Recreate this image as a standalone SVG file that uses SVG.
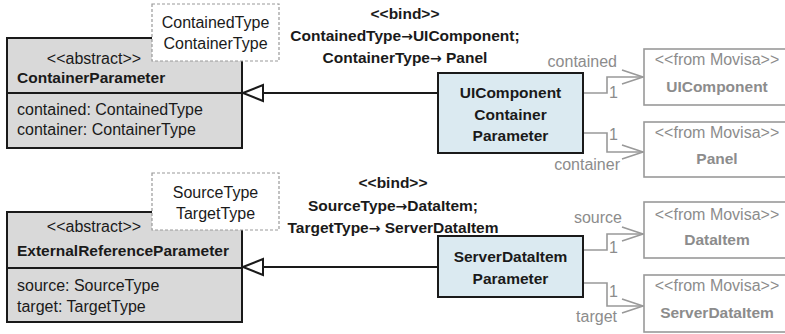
<svg xmlns="http://www.w3.org/2000/svg" width="785" height="334" viewBox="0 0 785 334">
<defs>
<style>
.t{font-family:"Liberation Sans",Arial,sans-serif;font-size:16px;fill:#1a1a1a}
.b{font-weight:bold;font-size:15.5px}
.g{fill:#8c8c8c}
.m{text-anchor:middle}
.e{text-anchor:end}
.ar{font-family:"DejaVu Sans",sans-serif;font-weight:bold;font-size:14px}
.abs{fill:#d9d9d9;stroke:#1a1a1a;stroke-width:2}
.blue{fill:#dbeaf1;stroke:#1a1a1a;stroke-width:2}
.mov{fill:#fff;stroke:#999;stroke-width:1.6}
.tpl{fill:#fff;stroke:#999;stroke-width:1.2;stroke-dasharray:3,2}
.gen{fill:none;stroke:#1a1a1a;stroke-width:2}
.tri{fill:#fff;stroke:#1a1a1a;stroke-width:2}
.asc{fill:none;stroke:#999;stroke-width:1.6}
</style>
</defs>

<g id="connectors">
<path class="gen" d="M438,93 L263,93"/>
<polygon class="tri" points="243,93 263,85 263,101"/>
<path class="gen" d="M438,267 L263,267"/>
<polygon class="tri" points="243,267 263,259 263,275"/>
<path class="asc" d="M583,93 H607 V77 H643"/>
<path class="asc" d="M622,70 L643,77 L622,84"/>
<path class="asc" d="M583,133 H607 V152 H643"/>
<path class="asc" d="M622,145 L643,152 L622,159"/>
<path class="asc" d="M583,250 H607 V234 H643"/>
<path class="asc" d="M622,227 L643,234 L622,241"/>
<path class="asc" d="M583,283 H607 V306 H643"/>
<path class="asc" d="M622,299 L643,306 L622,313"/>
<text class="t g e" x="617" y="67">contained</text>
<text class="t g" x="609" y="98">1</text>
<text class="t g" x="609" y="140">1</text>
<text class="t g e" x="620" y="170">container</text>
<text class="t g e" x="622" y="223">source</text>
<text class="t g" x="609" y="253">1</text>
<text class="t g" x="609" y="297">1</text>
<text class="t g e" x="617" y="322">target</text>
<g id="bind1">
<text class="t b m" x="405" y="19">&lt;&lt;bind&gt;&gt;</text>
<text class="t b m" x="405" y="41">ContainedType<tspan class="ar">→</tspan>UIComponent;</text>
<text class="t b m" x="405" y="63">ContainerType<tspan class="ar">→</tspan> Panel</text>
</g>
<g id="bind2">
<text class="t b m" x="393" y="188">&lt;&lt;bind&gt;&gt;</text>
<text class="t b m" x="393" y="211">SourceType<tspan class="ar">→</tspan>DataItem;</text>
<text class="t b m" x="393" y="233">TargetType<tspan class="ar">→</tspan> ServerDataItem</text>
</g>
</g>

<g id="ContainerParameter">
<rect class="abs" x="7" y="38" width="235" height="110"/>
<line x1="7" y1="93" x2="242" y2="93" stroke="#1a1a1a" stroke-width="2"/>
<text class="t m" x="94" y="64">&lt;&lt;abstract&gt;&gt;</text>
<text class="t b" x="17" y="83">ContainerParameter</text>
<text class="t" x="17" y="115">contained: ContainedType</text>
<text class="t" x="17" y="135">container: ContainerType</text>
</g>
<g id="tplContainer">
<rect class="tpl" x="152" y="4" width="127" height="57"/>
<text class="t m" x="215.5" y="28">ContainedType</text>
<text class="t m" x="215.5" y="49">ContainerType</text>
</g>

<g id="ExternalReferenceParameter">
<rect class="abs" x="7" y="212" width="235" height="110"/>
<line x1="7" y1="268" x2="242" y2="268" stroke="#1a1a1a" stroke-width="2"/>
<text class="t m" x="94" y="232">&lt;&lt;abstract&gt;&gt;</text>
<text class="t b" x="17" y="256">ExternalReferenceParameter</text>
<text class="t" x="17" y="291">source: SourceType</text>
<text class="t" x="17" y="312">target: TargetType</text>
</g>
<g id="tplExternal">
<rect class="tpl" x="152" y="173" width="127" height="57"/>
<text class="t m" x="215.5" y="198">SourceType</text>
<text class="t m" x="215.5" y="219">TargetType</text>
</g>

<g id="UIComponentContainerParameter">
<rect class="blue" x="438" y="73" width="145" height="80"/>
<text class="t b m" x="510.5" y="98">UIComponent</text>
<text class="t b m" x="510.5" y="120">Container</text>
<text class="t b m" x="510.5" y="141">Parameter</text>
</g>
<g id="ServerDataItemParameter">
<rect class="blue" x="438" y="236" width="145" height="61"/>
<text class="t b m" x="510.5" y="262">ServerDataItem</text>
<text class="t b m" x="510.5" y="284">Parameter</text>
</g>

<g id="UIComponent">
<rect class="mov" x="644" y="49" width="160" height="56"/>
<text class="t g m" x="717" y="65">&lt;&lt;from Movisa&gt;&gt;</text>
<text class="t g b m" x="717" y="92">UIComponent</text>
</g>
<g id="Panel">
<rect class="mov" x="644" y="122" width="160" height="55"/>
<text class="t g m" x="717" y="138">&lt;&lt;from Movisa&gt;&gt;</text>
<text class="t g b m" x="717" y="164">Panel</text>
</g>
<g id="DataItem">
<rect class="mov" x="644" y="202" width="160" height="56"/>
<text class="t g m" x="717" y="220">&lt;&lt;from Movisa&gt;&gt;</text>
<text class="t g b m" x="717" y="245">DataItem</text>
</g>
<g id="ServerDataItem">
<rect class="mov" x="644" y="275" width="160" height="57"/>
<text class="t g m" x="717" y="291">&lt;&lt;from Movisa&gt;&gt;</text>
<text class="t g b m" x="717" y="318">ServerDataItem</text>
</g>
</svg>
